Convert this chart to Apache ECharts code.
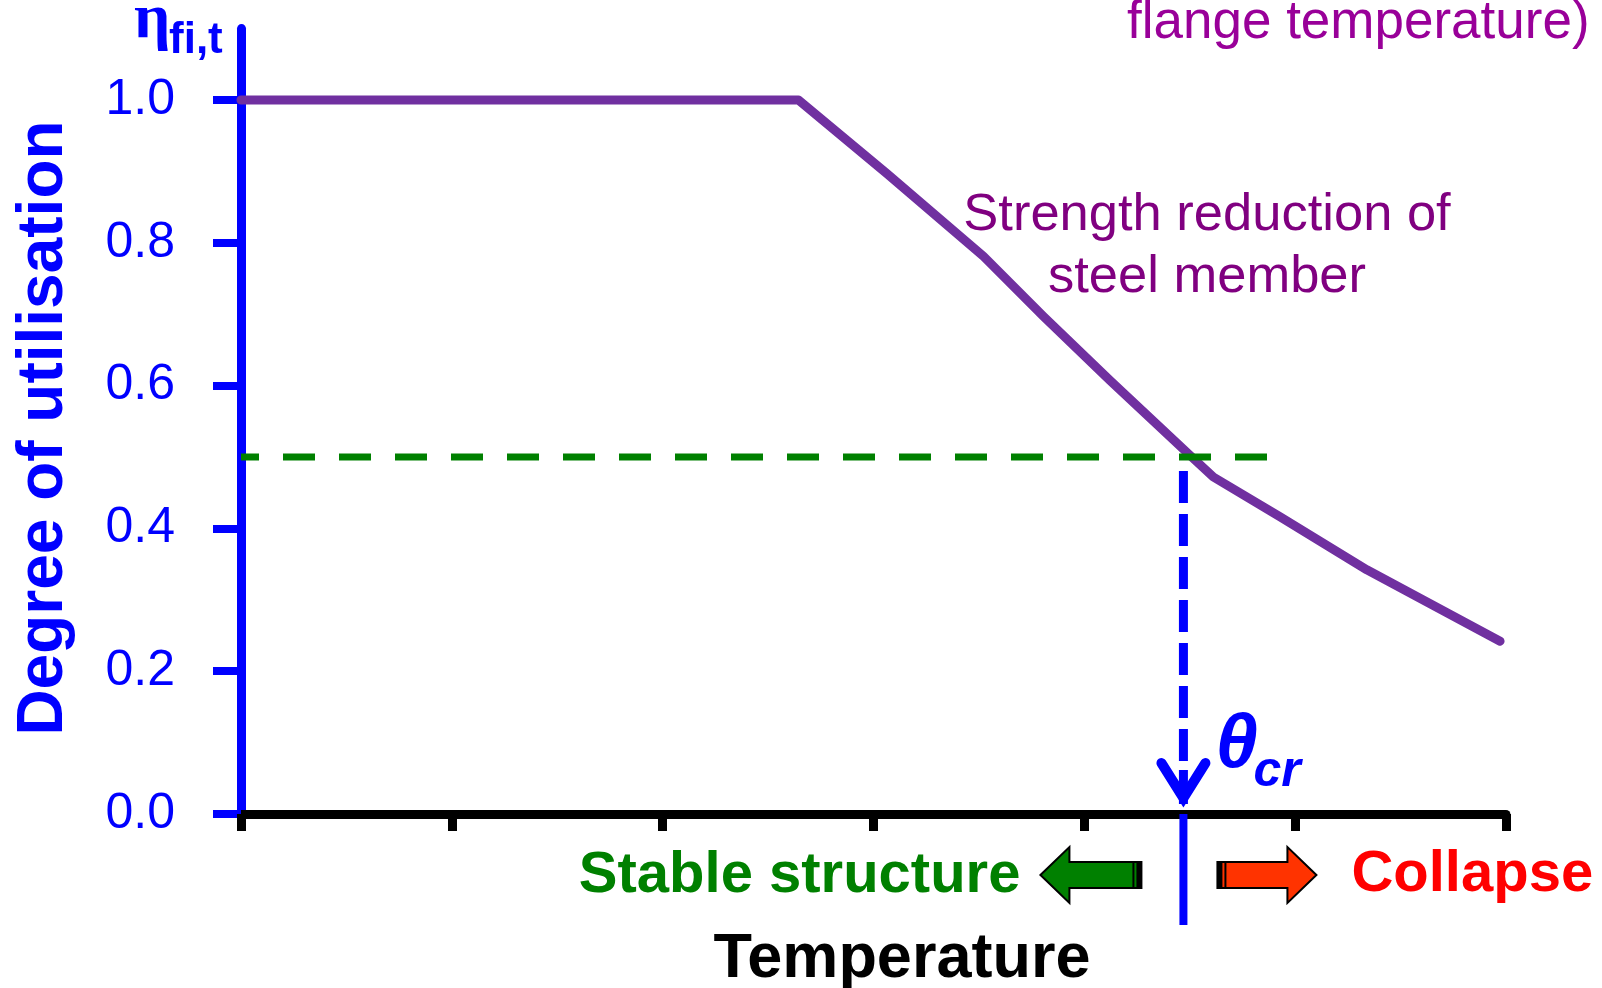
<!DOCTYPE html>
<html><head><meta charset="utf-8">
<script src="https://cdn.jsdelivr.net/npm/echarts@6/dist/echarts.min.js"></script>
<style>html,body{margin:0;padding:0;background:#fff}#c{width:1602px;height:988px}</style>
</head><body><div id="c"></div>
<script>
// ---- data ----
const tempX = [0, 0.674, 1.338, 1.998, 2.644, 3.063, 3.522, 3.806, 4.122, 4.502, 4.612, 4.929, 5.340, 5.972];
const utilY = [1.0, 1.0, 1.0, 1.0, 1.0, 0.897, 0.781, 0.697, 0.607, 0.502, 0.472, 0.416, 0.342, 0.242];
const yTicks = [0, 0.2, 0.4, 0.6, 0.8, 1.0];
const thresholdY = 0.5;
const thresholdX = [0, 4.87];
const critX = 4.47;

const SANS = '"Liberation Sans", Arial, sans-serif';
const SERIF = '"Liberation Serif", "Times New Roman", serif';
const BLUE = '#0000FF';

const chart = echarts.init(document.getElementById('c'), null, {renderer: 'canvas'});

const option = {
  animation: false,
  backgroundColor: '#ffffff',
  grid: {left: 241, right: 96, top: 28.6, bottom: 174, containLabel: false, outerBoundsMode: 'none'},
  xAxis: {
    type: 'value', min: 0, max: 6, interval: 1,
    axisLine: {show: true, lineStyle: {color: '#000000', width: 9}},
    axisTick: {show: true, length: 17, lineStyle: {color: '#000000', width: 9}},
    axisLabel: {show: false},
    splitLine: {show: false}
  },
  yAxis: {
    type: 'value', min: 0, max: 1.1, interval: 0.2,
    axisLine: {show: true, lineStyle: {color: BLUE, width: 9}},
    axisTick: {show: true, length: 28, customValues: yTicks, lineStyle: {color: BLUE, width: 8}},
    axisLabel: {show: true, customValues: yTicks, formatter: v => v.toFixed(1),
      fontSize: 50, color: BLUE, fontFamily: SANS, margin: 66},
    splitLine: {show: false}
  },
  series: [
    {
      type: 'line', name: 'Strength reduction',
      data: tempX.map((x, i) => [x, utilY[i]]),
      symbol: 'none', z: 3,
      lineStyle: {color: '#7030A0', width: 9, cap: 'round', join: 'round'}
    },
    {
      type: 'line', name: 'Utilisation',
      data: thresholdX.map(x => [x, thresholdY]),
      symbol: 'none', z: 4,
      lineStyle: {color: '#008000', width: 7, type: [32, 24], dashOffset: 14}
    },
    {
      type: 'custom', name: 'Critical', z: 5, clip: false,
      data: [[critX, thresholdY]],
      renderItem: function (params, api) {
        const top = api.coord([api.value(0), api.value(1)]);
        const bot = api.coord([api.value(0), 0]);
        const x = top[0];
        return {
          type: 'group', children: [
            {type: 'line', shape: {x1: x, y1: top[1] + 14, x2: x, y2: bot[1] - 47},
              style: {stroke: BLUE, lineWidth: 9, lineDash: [32, 11]}},
            {type: 'line', shape: {x1: x, y1: bot[1] - 44, x2: x, y2: bot[1] - 10},
              style: {stroke: BLUE, lineWidth: 9}},
            {type: 'polyline', shape: {points: [[x - 22, bot[1] - 51], [x, bot[1] - 16], [x + 22, bot[1] - 51]]},
              style: {stroke: BLUE, lineWidth: 10, fill: null, lineJoin: 'miter', lineCap: 'round'}},
            {type: 'line', shape: {x1: x, y1: bot[1], x2: x, y2: bot[1] + 111},
              style: {stroke: BLUE, lineWidth: 8}}
          ]
        };
      }
    }
  ]
};
chart.setOption(option);

const cx = chart.convertToPixel({xAxisIndex: 0}, critX);
const by = chart.convertToPixel({yAxisIndex: 0}, 0);
const cy = by + 61;

function blockArrow(tail, tip, color, dir) {
  const hb = tip - dir * 29;
  const pts = [[tip, cy], [hb, cy - 28], [hb, cy - 13], [tail, cy - 13], [tail, cy + 13], [hb, cy + 13], [hb, cy + 28]];
  return [
    {type: 'polygon', shape: {points: pts}, style: {fill: color, stroke: '#000000', lineWidth: 2}},
    {type: 'rect', shape: {x: dir < 0 ? tail - 5 : tail, y: cy - 13, width: 5, height: 26}, style: {fill: '#000000'}},
    {type: 'rect', shape: {x: dir < 0 ? tail - 9 : tail + 7, y: cy - 13, width: 2, height: 26}, style: {fill: '#000000'}}
  ];
}

const graphics = [].concat(
  blockArrow(cx - 42, cx - 143, '#008000', -1),
  blockArrow(cx + 34, cx + 133, '#FF3300', 1),
  [
    {type: 'text', x: cx - 163, y: cy + 1, style: {text: 'Stable structure', font: 'bold 58px ' + SANS, fill: '#008000', align: 'right', verticalAlign: 'middle'}},
    {type: 'text', x: cx + 168, y: cy, style: {text: 'Collapse', font: 'bold 58px ' + SANS, fill: '#FF0000', align: 'left', verticalAlign: 'middle'}},
    {type: 'text', x: 902, y: 960, style: {text: 'Temperature', font: 'bold 63px ' + SANS, fill: '#000000', align: 'center', verticalAlign: 'middle'}},
    {type: 'text', x: 1207, y: 216, style: {text: 'Strength reduction of', font: '52.5px ' + SANS, fill: '#800080', align: 'center', verticalAlign: 'middle'}},
    {type: 'text', x: 1207, y: 278, style: {text: 'steel member', font: '52.5px ' + SANS, fill: '#800080', align: 'center', verticalAlign: 'middle'}},
    {type: 'text', x: 1127, y: 23, style: {text: 'flange temperature)', font: '53px ' + SANS, fill: '#990099', align: 'left', verticalAlign: 'middle'}},
    {type: 'text', x: cx + 32, y: 746, style: {text: 'θ', font: 'italic bold 76px ' + SANS, fill: BLUE, align: 'left', verticalAlign: 'middle'}},
    {type: 'text', x: cx + 70, y: 772, style: {text: 'cr', font: 'italic bold 50px ' + SANS, fill: BLUE, align: 'left', verticalAlign: 'middle'}},
    {type: 'text', x: 134, y: 20, style: {text: 'η', font: 'bold 64px ' + SERIF, fill: BLUE, align: 'left', verticalAlign: 'middle'}},
    {type: 'text', x: 169, y: 41, style: {text: 'fi,t', font: 'bold 44px ' + SANS, fill: BLUE, align: 'left', verticalAlign: 'middle'}},
    {type: 'text', x: 44, y: 428, rotation: Math.PI / 2, style: {text: 'Degree of utilisation', font: 'bold 64px ' + SANS, fill: BLUE, align: 'center', verticalAlign: 'middle'}}
  ]
);
chart.setOption({graphic: {elements: graphics}});
</script>
</body></html>
